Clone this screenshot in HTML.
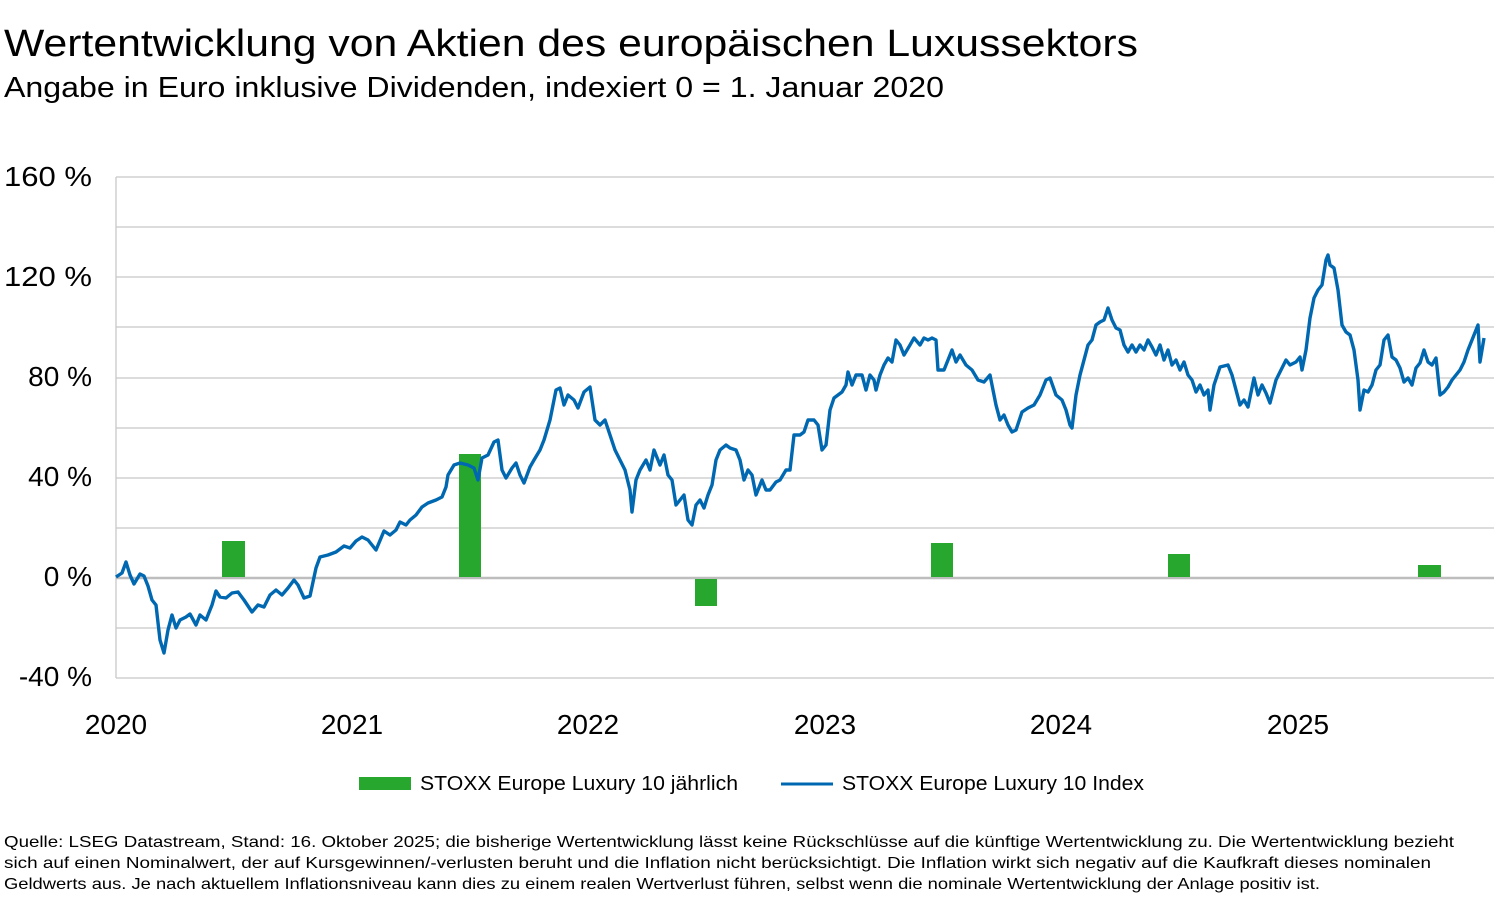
<!DOCTYPE html>
<html><head><meta charset="utf-8"><style>
body{margin:0;background:#fff;font-family:"Liberation Sans",sans-serif;color:#000}
svg text{font-family:"Liberation Sans",sans-serif}
</style></head><body>
<svg width="1499" height="898" viewBox="0 0 1499 898" xmlns="http://www.w3.org/2000/svg">
<text x="4" y="56" font-size="38" textLength="1134" lengthAdjust="spacingAndGlyphs">Wertentwicklung von Aktien des europäischen Luxussektors</text>
<text x="4" y="97" font-size="29" textLength="940" lengthAdjust="spacingAndGlyphs">Angabe in Euro inklusive Dividenden, indexiert 0 = 1. Januar 2020</text>
<g stroke="#c8c8c8" stroke-width="1.3">
<line x1="116" y1="177" x2="1494" y2="177"/><line x1="116" y1="227" x2="1494" y2="227"/>
<line x1="116" y1="277" x2="1494" y2="277"/><line x1="116" y1="327" x2="1494" y2="327"/>
<line x1="116" y1="378" x2="1494" y2="378"/><line x1="116" y1="428" x2="1494" y2="428"/>
<line x1="116" y1="478" x2="1494" y2="478"/><line x1="116" y1="528" x2="1494" y2="528"/>
<line x1="116" y1="628" x2="1494" y2="628"/><line x1="116" y1="678" x2="1494" y2="678"/>
<line x1="116" y1="177" x2="116" y2="678"/>
</g>
<line x1="116" y1="578" x2="1494" y2="578" stroke="#bdbdbd" stroke-width="2.5"/>
<g font-size="28" text-anchor="end">
<text x="92" y="186" textLength="88" lengthAdjust="spacingAndGlyphs">160 %</text><text x="92" y="286" textLength="88" lengthAdjust="spacingAndGlyphs">120 %</text><text x="92" y="386">80 %</text>
<text x="92" y="486">40 %</text><text x="92" y="586">0 %</text><text x="92" y="686">-40 %</text>
</g>
<g font-size="28" text-anchor="middle">
<text x="116" y="734">2020</text><text x="352" y="734">2021</text><text x="588" y="734">2022</text>
<text x="825" y="734">2023</text><text x="1061" y="734">2024</text><text x="1298" y="734">2025</text>
</g>
<g fill="#28a72e">
<rect x="222" y="541" width="23" height="36"/><rect x="459" y="454" width="22" height="123"/>
<rect x="695" y="579" width="22" height="27"/><rect x="931" y="543" width="22" height="34"/>
<rect x="1168" y="554" width="22" height="23"/><rect x="1418" y="565" width="23" height="12"/>
</g>
<polyline fill="none" stroke="#0068b1" stroke-width="3.4" stroke-linejoin="round" points="116,577 122,573 126,562 130,575 134,584 140,574 144,576 148,586 152,600 156,605 160,640 164,653 168,630 172,615 176,628 180,620 186,617 190,614 196,625 200,615 206,620 212,605 216,591 220,597 226,598 232,593 238,592 244,600 252,612 258,605 264,607 270,595 276,590 282,595 288,588 294,580 298,585 304,598 310,596 316,568 320,557 328,555 336,552 344,546 350,548 356,541 362,537 368,540 376,550 384,531 390,535 396,530 400,522 406,525 410,520 416,515 422,507 428,503 436,500 442,497 446,487 448,475 454,465 460,463 468,465 474,468 478,480 482,458 488,455 494,442 498,440 502,470 506,478 512,468 516,463 520,475 524,483 530,467 534,460 540,450 544,440 550,420 556,390 560,388 564,405 568,395 574,400 578,408 584,392 590,387 595,420 600,425 605,420 610,435 615,450 620,460 625,470 630,490 632,512 636,480 640,470 646,460 650,470 654,450 660,465 664,455 668,475 672,480 676,505 680,500 684,495 688,520 692,525 696,505 700,500 704,508 708,495 712,485 716,460 720,450 726,445 730,448 736,450 740,460 744,480 748,470 752,475 756,495 762,480 766,490 770,490 776,482 780,480 786,470 790,470 794,435 800,435 804,432 808,420 814,420 818,425 822,450 826,445 830,410 834,398 838,395 842,392 846,385 848,372 852,385 856,375 862,375 866,390 870,375 874,380 876,390 880,375 884,365 888,358 892,362 896,340 900,345 904,355 910,345 914,338 920,345 924,338 928,340 932,338 936,340 938,370 944,370 948,360 952,350 956,362 960,355 966,365 972,370 978,380 984,382 990,375 996,405 1000,420 1004,415 1008,425 1012,432 1016,430 1022,412 1028,408 1034,405 1040,395 1046,380 1050,378 1056,395 1062,400 1066,410 1070,425 1072,428 1076,395 1080,375 1084,360 1088,345 1092,340 1096,325 1100,322 1104,320 1108,308 1112,320 1116,328 1120,330 1124,345 1128,352 1132,345 1136,352 1140,345 1144,350 1148,340 1152,347 1156,355 1160,345 1164,360 1168,350 1172,365 1176,360 1180,370 1184,362 1188,375 1192,380 1196,392 1200,385 1204,395 1208,390 1210,410 1214,385 1220,367 1228,365 1232,375 1236,390 1240,405 1244,400 1248,407 1254,378 1258,395 1262,385 1266,393 1270,403 1276,380 1280,372 1286,360 1290,365 1296,362 1300,357 1302,370 1306,350 1310,318 1314,298 1318,290 1322,285 1326,260 1328,255 1330,265 1334,268 1338,290 1342,325 1346,332 1350,335 1354,350 1358,380 1360,410 1364,390 1368,392 1372,385 1376,370 1380,365 1384,340 1388,335 1392,357 1396,360 1400,368 1404,382 1408,378 1412,385 1416,368 1420,363 1424,350 1428,362 1432,365 1436,358 1440,395 1444,392 1448,387 1452,380 1456,375 1460,370 1464,362 1468,350 1472,340 1476,330 1478,325 1480,362 1484,338"/>
<rect x="359" y="777" width="52" height="13" fill="#28a72e"/>
<text x="420" y="790" font-size="20" textLength="318" lengthAdjust="spacingAndGlyphs">STOXX Europe Luxury 10 jährlich</text>
<line x1="781" y1="784" x2="833" y2="784" stroke="#0068b1" stroke-width="3"/>
<text x="842" y="790" font-size="20" textLength="302" lengthAdjust="spacingAndGlyphs">STOXX Europe Luxury 10 Index</text>
<g font-size="16">
<text x="4" y="847" textLength="1450" lengthAdjust="spacingAndGlyphs">Quelle: LSEG Datastream, Stand: 16. Oktober 2025; die bisherige Wertentwicklung lässt keine Rückschlüsse auf die künftige Wertentwicklung zu. Die Wertentwicklung bezieht</text>
<text x="4" y="868" textLength="1427" lengthAdjust="spacingAndGlyphs">sich auf einen Nominalwert, der auf Kursgewinnen/-verlusten beruht und die Inflation nicht berücksichtigt. Die Inflation wirkt sich negativ auf die Kaufkraft dieses nominalen</text>
<text x="4" y="889" textLength="1316" lengthAdjust="spacingAndGlyphs">Geldwerts aus. Je nach aktuellem Inflationsniveau kann dies zu einem realen Wertverlust führen, selbst wenn die nominale Wertentwicklung der Anlage positiv ist.</text>
</g>
</svg>
</body></html>
